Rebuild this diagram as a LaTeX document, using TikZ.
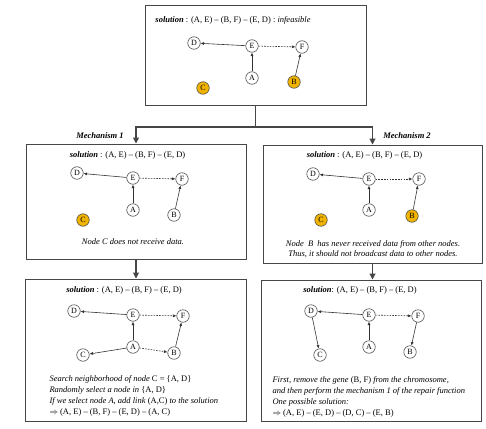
\documentclass[tikz,border=0pt]{standalone}
\usepackage{fontspec}
\setmainfont{Liberation Serif}
\usetikzlibrary{arrows.meta}
\definecolor{gold}{RGB}{240,180,0}
\definecolor{frameclr}{RGB}{70,70,70}
\begin{document}
\begin{tikzpicture}[x=1pt,y=-1pt,
  vtx/.style={circle,draw=black!70,line width=0.6pt,fill=white,inner sep=0pt,minimum size=12.5pt,font=\fontsize{8}{8}\selectfont},
  hot/.style={vtx,fill=gold},
  frame/.style={draw=frameclr,line width=1pt,minimum width=#1,inner sep=0pt},
  tall/.style={minimum height=#1},
  link/.style={line width=0.6pt,draw=black!80,-{Latex[length=3.5pt,width=3pt]}},
  dlink/.style={link,dash pattern=on 1.6pt off 1.2pt},
  flow/.style={draw=frameclr,line width=1.1pt,-{Triangle[length=6pt,width=6pt]}},
  title/.style={font=\fontsize{8.5}{10}\selectfont},
  desc/.style={font=\fontsize{8.5}{11}\selectfont\itshape,align=left},
  mech/.style={font=\fontsize{8.5}{10}\selectfont\bfseries\itshape}
]
\useasboundingbox (0,0) rectangle (486,428);
% frames
\node[frame=221pt,tall=99pt] (top) at (255.5,55.5) {};
\node[frame=220pt,tall=115pt] (m1) at (136,201.5) {};
\node[frame=219pt,tall=118pt] (m2) at (372.5,204) {};
\node[frame=221pt,tall=142pt] (l1) at (135.5,350) {};
\node[frame=220pt,tall=141pt] (l2) at (371,350.5) {};
% flow connectors
\coordinate (split) at (255.5,127);
\draw[draw=frameclr,line width=1.1pt] (top.south) -- (split);
\draw[flow] (split) -| (m1.north);
\draw[flow] (split) -| (m2.north);
\draw[flow] (m1.south) -- (m1.south |- l1.north);
\draw[flow] (m2.south) -- (m2.south |- l2.north);
\node[mech] (mk1) at (100,136) {Mechanism 1};
\node[mech] (mk2) at (407,136) {Mechanism 2};
% ---- top box
\node[title] (tt) at (233,20) {\textbf{\textit{solution}} : (A, E) – (B, F) – (E, D) : \textit{infeasible}};
\node[vtx] (tD) at (194,43) {D};
\node[vtx] (tE) at (252,46) {E};
\node[vtx] (tF) at (302,47) {F};
\node[vtx] (tA) at (252,78) {A};
\node[hot] (tB) at (294,82) {B};
\node[hot] (tC) at (203,88) {C};
\draw[link] (tE) -- (tD);
\draw[dlink] (tE) -- (tF);
\draw[link] (tA) -- (tE);
\draw[link] (tB) -- (tF);
% ---- middle left
\node[title] (at) at (127.5,155) {\textbf{\textit{solution}} : (A, E) – (B, F) – (E, D)};
\node[vtx] (aD) at (77,173) {D};
\node[vtx] (aE) at (133,178) {E};
\node[vtx] (aF) at (182,179) {F};
\node[vtx] (aA) at (133,210) {A};
\node[vtx] (aB) at (174,215) {B};
\node[hot] (aC) at (83,220) {C};
\draw[link] (aE) -- (aD);
\draw[dlink] (aE) -- (aF);
\draw[link] (aA) -- (aE);
\draw[link] (aB) -- (aF);
\node[desc] (ad) at (133,242) {Node C does not receive data.};
% ---- middle right
\node[title] (bt) at (364.5,155) {\textbf{\textit{solution}} : (A, E) – (B, F) – (E, D)};
\node[vtx] (bD) at (313,174) {D};
\node[vtx] (bE) at (369,179) {E};
\node[vtx] (bF) at (419,179) {F};
\node[vtx] (bA) at (369,210) {A};
\node[hot] (bB) at (412,216) {B};
\node[hot] (bC) at (321,220) {C};
\draw[link] (bE) -- (bD);
\draw[dlink] (bE) -- (bF);
\draw[link] (bA) -- (bE);
\draw[link] (bB) -- (bF);
\node[desc,align=center,font=\fontsize{8.5}{10}\selectfont\itshape] (bd) at (373,249) {Node\ \ B\ \ has never received data from other nodes.\\Thus, it should not broadcast data to other nodes.};
% ---- lower left
\node[title] (ct) at (124,290) {\textbf{\textit{solution}} : (A, E) – (B, F) – (E, D)};
\node[vtx] (cD) at (74,311) {D};
\node[vtx] (cE) at (133,315) {E};
\node[vtx] (cF) at (183,316) {F};
\node[vtx] (cA) at (133,347) {A};
\node[vtx] (cB) at (174,353) {B};
\node[vtx] (cC) at (83,355) {C};
\draw[link] (cE) -- (cD);
\draw[dlink] (cE) -- (cF);
\draw[link] (cA) -- (cE);
\draw[link] (cB) -- (cF);
\draw[dlink] (cA) -- (cB);
\draw[link] (cA) -- (cC);
\node[desc,anchor=west] (cd) at (46,395.5) {Search neighborhood of node \textup{C = \{A, D\}}\\Randomly select a node in \textup{\{A, D\}}\\If we select node A, add link \textup{(A,C)} to the solution\\\textup{$\Rightarrow$ (A, E) – (B, F) – (E, D) – (A, C)}};
% ---- lower right
\node[title] (dt) at (360,290) {\textbf{\textit{solution}}: (A, E) – (B, F) – (E, D)};
\node[vtx] (dD) at (311,311) {D};
\node[vtx] (dE) at (369,315) {E};
\node[vtx] (dF) at (418,316) {F};
\node[vtx] (dA) at (369,347) {A};
\node[vtx] (dB) at (410,352) {B};
\node[vtx] (dC) at (320,355) {C};
\draw[link] (dE) -- (dD);
\draw[dlink] (dE) -- (dF);
\draw[link] (dA) -- (dE);
\draw[link] (dD) -- (dC);
\draw[link] (dF) -- (dB);
\node[desc,anchor=west] (dd) at (269,396.5) {First, remove the gene \textup{(B, F)} from the chromosome,\\and then perform the mechanism 1 of the repair function\\One possible solution:\\\textup{$\Rightarrow$ (A, E) – (E, D) – (D, C) – (E, B)}};
\end{tikzpicture}
\end{document}
